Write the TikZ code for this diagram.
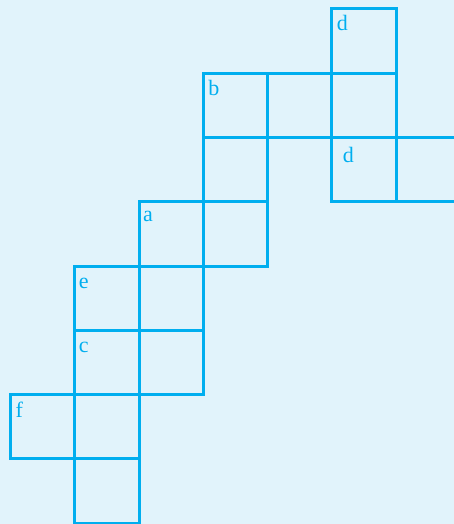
\documentclass[tikz,border=0pt]{standalone}
\usepackage{fontspec}
\setmainfont{Liberation Serif}
\definecolor{bg}{HTML}{E1F3FB}
\definecolor{ln}{HTML}{00AEEF}
\begin{document}
\begin{tikzpicture}[x=1pt,y=-1pt,
  sq/.style={draw=ln,line width=3pt,minimum size=64.25pt,inner sep=0pt,outer sep=0pt,anchor=north west},
  lbl/.style={text=ln,font=\fontsize{22}{22}\selectfont,inner sep=0pt,anchor=base west}]
\fill[bg] (0,0) rectangle (454,524);
\useasboundingbox (0,0) rectangle (454,524);
\clip (0,0) rectangle (454,524);
\foreach \i/\j/\n in {5/0/s50,3/1/s31,4/1/s41,5/1/s51,3/2/s32,5/2/s52,6/2/s62,2/3/s23,3/3/s33,1/4/s14,2/4/s24,1/5/s15,2/5/s25,0/6/s06,1/6/s16,1/7/s17}
  \node[sq] (\n) at ({10.5+64.25*\i},{9+64.25*\j}) {};
\node[lbl] (ld1) at ([shift={(5,22)}]s50.north west) {d};
\node[lbl] (lb) at ([shift={(5,22)}]s31.north west) {b};
\node[lbl] (ld2) at ([shift={(11,25)}]s52.north west) {d};
\node[lbl] (la) at ([shift={(4,20)}]s23.north west) {a};
\node[lbl] (le) at ([shift={(4,22)}]s14.north west) {e};
\node[lbl] (lc) at ([shift={(4,22)}]s15.north west) {c};
\node[lbl] (lf) at ([shift={(5,23)}]s06.north west) {f};
\end{tikzpicture}
\end{document}
